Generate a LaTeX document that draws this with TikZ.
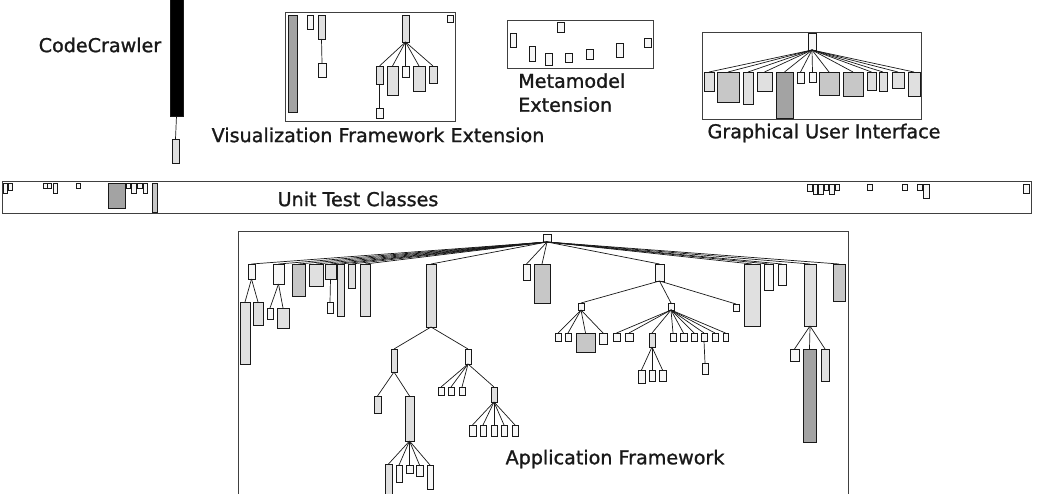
\documentclass[tikz,border=0pt]{standalone}
\usepackage{fontspec}
\setmainfont{DejaVu Sans}[FakeBold=1]
\newfontfamily\labelfont{DejaVu Sans}[FakeBold=1.2]

% one pixel of the layout
\newlength{\px}
\setlength{\px}{0.025cm}

% \classbox{name}{left}{top}{width}{height}{fill}
\newcommand{\classbox}[6]{%
  \node[cls, fill=#6, minimum width=#4\px, minimum height=#5\px] (#1) at (#2,#3) {};}

\begin{document}
\begin{tikzpicture}[x=0.025cm, y=-0.025cm]
  \useasboundingbox (0,0) rectangle (1038,493);
  \clip (0,0) rectangle (1038,493);

  % ==========================================
  % 1. COLOURS & STYLES
  % ==========================================
  \definecolor{boxWhite}{gray}{0.97}
  \definecolor{boxLight}{gray}{0.88}
  \definecolor{boxMid}{gray}{0.78}
  \definecolor{boxDark}{gray}{0.64}

  \tikzset{
    cls/.style={draw=black!90, line width=0.7pt, inner sep=0pt, outer sep=0pt, anchor=north west},
    edge/.style={draw=black!90, line width=0.5pt},
    frame/.style={draw=black!75, line width=0.8pt, fill=none, inner sep=0pt, anchor=north west},
    lbl/.style={font=\labelfont\fontsize{13.6}{17}\selectfont, inner sep=0pt, text=black!90}
  }

  % ==========================================
  % 2. CODECRAWLER
  % ==========================================
  \classbox{cc}{170}{-4}{13}{120}{black}
  \classbox{ccA}{172}{139}{7}{24}{boxLight}
  \draw[edge] (cc.south) -- (ccA.north);
  \node[lbl] (ccLabel) at (100,45) {CodeCrawler};

  % ==========================================
  % 3. VISUALIZATION FRAMEWORK EXTENSION
  % ==========================================
  \node[frame, minimum width=170\px, minimum height=109\px] (vfFrame) at (285,12) {};
  \classbox{vfBar}{288}{15}{9}{97}{boxDark}
  \classbox{vfA}{307}{15}{6}{14}{boxWhite}
  \classbox{vfB}{318}{15}{7}{24}{boxLight}
  \classbox{vfBa}{318}{63}{8}{14}{boxWhite}
  \classbox{vfC}{447}{15}{6}{7}{boxWhite}
  \classbox{vfR}{402}{15}{7}{27}{boxLight}
  \classbox{vfR1}{376}{66}{7}{18}{boxLight}
  \classbox{vfR1a}{376}{108}{7}{10}{boxWhite}
  \classbox{vfR2}{387}{66}{11}{29}{boxLight}
  \classbox{vfR3}{402}{66}{7}{11}{boxWhite}
  \classbox{vfR4}{413}{66}{12}{25}{boxLight}
  \classbox{vfR5}{429}{66}{8}{17}{boxLight}
  \draw[edge] (vfB.south) -- (vfBa.north);
  \draw[edge] (vfR1.south) -- (vfR1a.north);
  \foreach \c in {vfR1, vfR2, vfR3, vfR4, vfR5}
    \draw[edge] (vfR.south) -- (\c.north);
  \node[lbl] (vfLabel) at (378,135) {Visualization Framework Extension};

  % ==========================================
  % 4. METAMODEL EXTENSION
  % ==========================================
  \node[frame, minimum width=146\px, minimum height=48\px] (mmFrame) at (507,20) {};
  \classbox{mm1}{557}{22}{7}{10}{boxWhite}
  \classbox{mm2}{510}{33}{6}{14}{boxWhite}
  \classbox{mm3}{529}{46}{6}{15}{boxWhite}
  \classbox{mm4}{545}{53}{7}{12}{boxWhite}
  \classbox{mm5}{565}{53}{7}{9}{boxWhite}
  \classbox{mm6}{586}{49}{7}{10}{boxWhite}
  \classbox{mm7}{616}{43}{7}{14}{boxWhite}
  \classbox{mm8}{644}{38}{7}{9}{boxWhite}
  \node[lbl, anchor=north west, align=left] (mmLabel) at (518,73) {Metamodel\\[0pt]Extension};

  % ==========================================
  % 5. GRAPHICAL USER INTERFACE
  % ==========================================
  \node[frame, minimum width=219\px, minimum height=87\px] (guiFrame) at (702,32) {};
  \classbox{guiR}{808}{33}{8}{17}{boxWhite}
  \classbox{g1}{704}{72}{10}{19}{boxLight}
  \classbox{g2}{717}{72}{22}{30}{boxMid}
  \classbox{g3}{743}{72}{10}{32}{boxLight}
  \classbox{g4}{757}{72}{15}{19}{boxLight}
  \classbox{g5}{776}{72}{17}{46}{boxDark}
  \classbox{g6}{797}{72}{7}{11}{boxWhite}
  \classbox{g7}{809}{72}{7}{10}{boxWhite}
  \classbox{g8}{819}{72}{20}{23}{boxMid}
  \classbox{g9}{843}{72}{20}{24}{boxMid}
  \classbox{g10}{867}{72}{9}{18}{boxLight}
  \classbox{g11}{879}{72}{8}{19}{boxLight}
  \classbox{g12}{892}{72}{12}{16}{boxLight}
  \classbox{g13}{908}{72}{12}{24}{boxLight}
  \foreach \c in {g1, g2, g3, g4, g5, g6, g7, g8, g9, g10, g11, g12, g13}
    \draw[edge] (guiR.south) -- (\c.north);
  \node[lbl] (guiLabel) at (824,133) {Graphical User Interface};

  % ==========================================
  % 6. UNIT TEST CLASSES
  % ==========================================
  \node[frame, minimum width=1029\px, minimum height=32\px] (utFrame) at (2,181) {};
  \classbox{u1}{3}{183}{4}{10}{boxWhite}
  \classbox{u2}{8}{183}{4}{7}{boxWhite}
  \classbox{u3}{43}{183}{4}{5}{boxWhite}
  \classbox{u4}{47}{183}{4}{5}{boxWhite}
  \classbox{u5}{53}{183}{4}{10}{boxWhite}
  \classbox{u6}{76}{183}{4}{5}{boxWhite}
  \classbox{u7}{108}{183}{17}{25}{boxDark}
  \classbox{u8}{126}{183}{4}{5}{boxWhite}
  \classbox{u9}{131}{183}{5}{10}{boxWhite}
  \classbox{u10}{137}{183}{5}{5}{boxWhite}
  \classbox{u11}{143}{183}{4}{10}{boxWhite}
  \classbox{u12}{152}{183}{5}{29}{boxMid}
  \classbox{u13}{807}{184}{5}{7}{boxWhite}
  \classbox{u14}{813}{184}{4}{10}{boxWhite}
  \classbox{u15}{818}{184}{5}{10}{boxWhite}
  \classbox{u16}{824}{184}{4}{6}{boxWhite}
  \classbox{u17}{829}{184}{5}{10}{boxWhite}
  \classbox{u18}{835}{184}{4}{6}{boxWhite}
  \classbox{u19}{867}{184}{5}{6}{boxWhite}
  \classbox{u20}{902}{184}{5}{6}{boxWhite}
  \classbox{u21}{917}{184}{5}{6}{boxWhite}
  \classbox{u22}{923}{184}{6}{14}{boxWhite}
  \classbox{u23}{1023}{184}{6}{9}{boxWhite}
  \node[lbl] (utLabel) at (358,199) {Unit Test Classes};

  % ==========================================
  % 7. APPLICATION FRAMEWORK
  % ==========================================
  \node[frame, minimum width=610\px, minimum height=280\px] (afFrame) at (238,231) {};
  \classbox{aR}{543}{234}{8}{8}{boxWhite}

  % --- first level ---
  \classbox{a1}{248}{264}{7}{15}{boxWhite}
  \classbox{a2}{273}{264}{11}{20}{boxWhite}
  \classbox{a3}{292}{264}{13}{32}{boxMid}
  \classbox{a4}{309}{264}{14}{22}{boxLight}
  \classbox{a5}{325}{264}{11}{15}{boxLight}
  \classbox{a6}{337}{264}{7}{52}{boxLight}
  \classbox{a7}{348}{264}{7}{24}{boxLight}
  \classbox{a8}{360}{264}{10}{52}{boxLight}
  \classbox{a9}{426}{264}{10}{63}{boxLight}
  \classbox{a10}{523}{264}{7}{16}{boxWhite}
  \classbox{a11}{534}{264}{16}{39}{boxMid}
  \classbox{a12}{655}{264}{9}{17}{boxWhite}
  \classbox{a13}{744}{264}{16}{62}{boxLight}
  \classbox{a14}{764}{264}{9}{26}{boxWhite}
  \classbox{a15}{778}{264}{8}{21}{boxWhite}
  \classbox{a16}{804}{264}{12}{62}{boxLight}
  \classbox{a17}{833}{264}{12}{37}{boxMid}
  \foreach \c in {a1, a2, a3, a4, a5, a6, a7, a8, a9, a10, a11, a12, a13, a14, a15, a16, a17}
    \draw[edge] (aR.south) -- (\c.north);

  % --- left subtrees ---
  \classbox{a1a}{240}{302}{10}{62}{boxLight}
  \classbox{a1b}{253}{302}{10}{23}{boxLight}
  \classbox{a2a}{267}{308}{6}{11}{boxWhite}
  \classbox{a2b}{277}{308}{12}{20}{boxLight}
  \classbox{a5a}{327}{302}{6}{11}{boxWhite}
  \foreach \p/\c in {a1/a1a, a1/a1b, a2/a2a, a2/a2b, a5/a5a}
    \draw[edge] (\p.south) -- (\c.north);

  % --- deep subtree below a9 ---
  \classbox{a9a}{391}{349}{6}{23}{boxLight}
  \classbox{a9b}{465}{349}{6}{15}{boxWhite}
  \classbox{a9aa}{374}{396}{7}{17}{boxLight}
  \classbox{a9ab}{405}{396}{9}{45}{boxLight}
  \classbox{c1}{385}{464}{7}{40}{boxLight}
  \classbox{c2}{396}{465}{6}{17}{boxWhite}
  \classbox{c3}{406}{465}{7}{8}{boxWhite}
  \classbox{c4}{416}{465}{7}{11}{boxWhite}
  \classbox{c5}{427}{465}{6}{24}{boxWhite}
  \classbox{d1}{438}{387}{6}{8}{boxWhite}
  \classbox{d2}{448}{387}{6}{8}{boxWhite}
  \classbox{d3}{459}{387}{6}{8}{boxWhite}
  \classbox{a9bd}{491}{387}{6}{15}{boxLight}
  \classbox{e1}{469}{425}{7}{11}{boxWhite}
  \classbox{e2}{480}{425}{6}{11}{boxWhite}
  \classbox{e3}{491}{425}{6}{11}{boxWhite}
  \classbox{e4}{501}{425}{6}{11}{boxWhite}
  \classbox{e5}{512}{425}{6}{11}{boxWhite}
  \foreach \p/\c in {a9/a9a, a9/a9b, a9a/a9aa, a9a/a9ab,
                     a9ab/c1, a9ab/c2, a9ab/c3, a9ab/c4, a9ab/c5,
                     a9b/d1, a9b/d2, a9b/d3, a9b/a9bd,
                     a9bd/e1, a9bd/e2, a9bd/e3, a9bd/e4, a9bd/e5}
    \draw[edge] (\p.south) -- (\c.north);

  % --- subtree below a12 ---
  \classbox{a12a}{578}{303}{6}{7}{boxWhite}
  \classbox{a12b}{668}{303}{6}{7}{boxWhite}
  \classbox{a12c}{733}{304}{6}{7}{boxWhite}
  \classbox{f1}{555}{333}{6}{8}{boxWhite}
  \classbox{f2}{565}{333}{6}{8}{boxWhite}
  \classbox{f3}{576}{333}{19}{19}{boxMid}
  \classbox{f4}{599}{333}{8}{11}{boxWhite}
  \classbox{h1}{613}{333}{7}{8}{boxWhite}
  \classbox{h2}{625}{333}{8}{8}{boxWhite}
  \classbox{h3}{649}{333}{6}{14}{boxLight}
  \classbox{h4}{670}{333}{6}{8}{boxWhite}
  \classbox{h5}{680}{333}{7}{8}{boxWhite}
  \classbox{h6}{691}{333}{6}{8}{boxWhite}
  \classbox{h7}{701}{333}{6}{8}{boxWhite}
  \classbox{h8}{712}{333}{6}{8}{boxWhite}
  \classbox{h9}{723}{333}{5}{8}{boxWhite}
  \classbox{i1}{638}{370}{7}{13}{boxWhite}
  \classbox{i2}{649}{370}{6}{11}{boxWhite}
  \classbox{i3}{659}{370}{7}{11}{boxWhite}
  \classbox{j1}{702}{363}{6}{11}{boxWhite}
  \foreach \p/\c in {a12/a12a, a12/a12b, a12/a12c,
                     a12a/f1, a12a/f2, a12a/f3, a12a/f4,
                     a12b/h1, a12b/h2, a12b/h3, a12b/h4, a12b/h5,
                     a12b/h6, a12b/h7, a12b/h8, a12b/h9,
                     h3/i1, h3/i2, h3/i3, h7/j1}
    \draw[edge] (\p.south) -- (\c.north);

  % --- subtree below a16 ---
  \classbox{k1}{790}{349}{9}{12}{boxWhite}
  \classbox{k2}{803}{349}{13}{93}{boxDark}
  \classbox{k3}{821}{349}{8}{32}{boxLight}
  \foreach \c in {k1, k2, k3}
    \draw[edge] (a16.south) -- (\c.north);

  \node[lbl] (afLabel) at (615,459) {Application Framework};

\end{tikzpicture}
\end{document}
